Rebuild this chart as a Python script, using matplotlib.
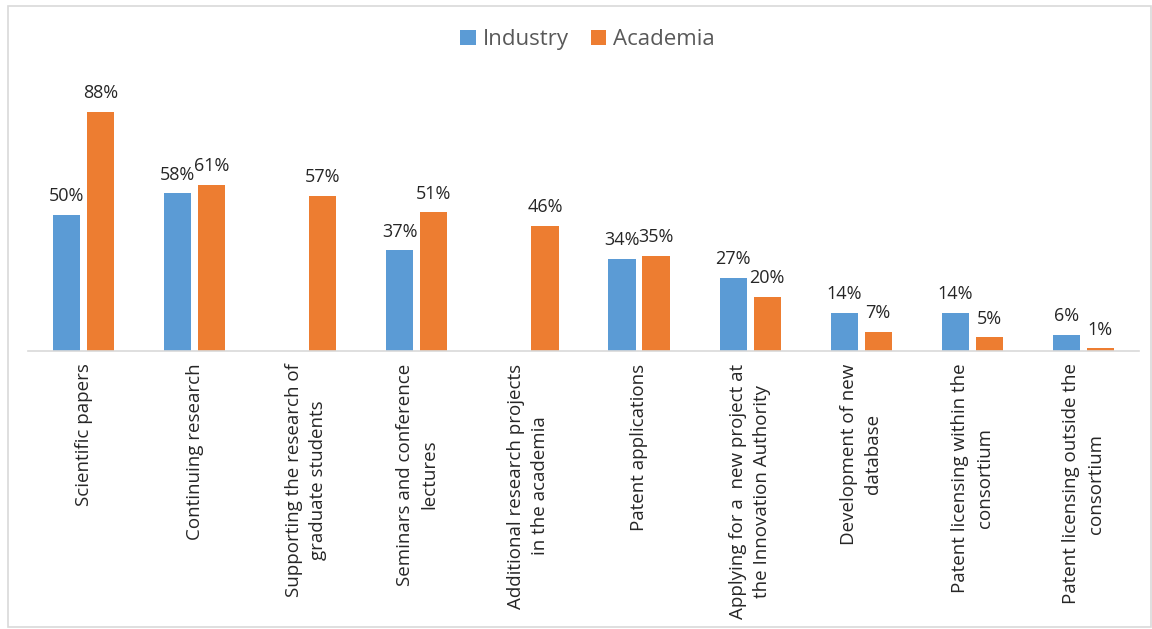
import matplotlib
matplotlib.use("Agg")

import numpy as np
import matplotlib.pyplot as plt
from matplotlib.patches import Rectangle

# ---------------- Data ----------------
categories = [
    "Scientific papers",
    "Continuing research",
    "Supporting the research of\ngraduate students",
    "Seminars and conference\nlectures",
    "Additional research projects\nin the academia",
    "Patent applications",
    "Applying for a  new project at\nthe Innovation Authority",
    "Development of new\ndatabase",
    "Patent licensing within the\nconsortium",
    "Patent licensing outside the\nconsortium",
]
industry = [50, 58, None, 37, None, 34, 27, 14, 14, 6]
academia = [88, 61, 57, 51, 46, 35, 20, 7, 5, 1]

BLUE = "#5B9BD5"
ORANGE = "#ED7D31"
TEXT = "#262626"

plt.rcParams["font.family"] = ["Open Sans", "DejaVu Sans"]

fig = plt.figure(figsize=(11.52, 6.29), dpi=100)
ax = fig.add_axes([28 / 1152, 278 / 629, 1111 / 1152, 272 / 629])

x = np.arange(len(categories))
width = 0.245
offset = 0.153

ind_vals = np.array([np.nan if v is None else v for v in industry], dtype=float)
aca_vals = np.array(academia, dtype=float)

ax.bar(x - offset, np.nan_to_num(ind_vals), width, color=BLUE, label="Industry")
ax.bar(x + offset, aca_vals, width, color=ORANGE, label="Academia")

# value labels above bars (skip missing industry values)
for xi, v in zip(x, ind_vals):
    if not np.isnan(v):
        ax.annotate(f"{int(v)}%", (xi - offset, v), xytext=(0, 7), textcoords="offset points",
                    ha="center", va="bottom", fontsize=13, color=TEXT)
for xi, v in zip(x, aca_vals):
    ax.annotate(f"{int(v)}%", (xi + offset, v), xytext=(0, 7), textcoords="offset points",
                ha="center", va="bottom", fontsize=13, color=TEXT)

ax.set_xlim(-0.5, len(categories) - 0.5)
ax.set_ylim(0, 100)
ax.set_yticks([])
ax.set_xticks(x)
ax.set_xticklabels(categories, rotation=90, fontsize=13.5, color=TEXT,
                   ha="center", va="top", multialignment="center", linespacing=1.45)
ax.tick_params(axis="x", length=0, pad=9)

for side in ["top", "right", "left"]:
    ax.spines[side].set_visible(False)
ax.spines["bottom"].set_color("#D9D9D9")
ax.spines["bottom"].set_linewidth(1.2)

fig.legend(loc="upper center", bbox_to_anchor=(0.51, 0.985), ncol=2, frameon=False,
           fontsize=16, handlelength=0.7, handleheight=0.7, handletextpad=0.3,
           columnspacing=1.0, labelcolor="#595959")

# chart border
fig.patches.append(Rectangle((8 / 1152, 2 / 629), 1143 / 1152, 621 / 629,
                             transform=fig.transFigure, fill=False,
                             edgecolor="#D9D9D9", linewidth=1.2))

fig.savefig("out.png", dpi=100)
plt.close(fig)
